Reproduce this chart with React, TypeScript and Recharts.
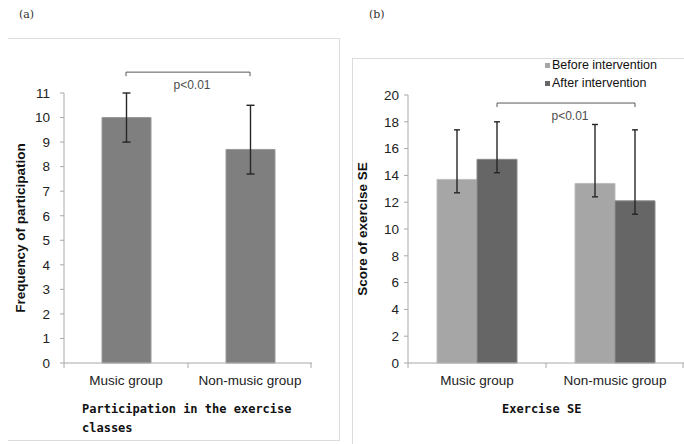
import React from 'react';
import {
  BarChart,
  Bar,
  XAxis,
  YAxis,
  ErrorBar,
  ReferenceLine,
  Legend,
} from 'recharts';

// categories
const groups = ['Music group', 'Non-music group'];

// (a) participation in the exercise classes
const participation = [10, 8.7];
const participationLow = [9, 7.7];
const participationHigh = [11, 10.5];
const ticksA = [0, 1, 2, 3, 4, 5, 6, 7, 8, 9, 10, 11];

// (b) exercise self-efficacy
const seBefore = [13.7, 13.4];
const seBeforeLow = [12.7, 12.4];
const seBeforeHigh = [17.4, 17.8];
const seAfter = [15.2, 12.1];
const seAfterLow = [14.2, 11.1];
const seAfterHigh = [18.0, 17.4];
const ticksB = [0, 2, 4, 6, 8, 10, 12, 14, 16, 18, 20];

// significance brackets (y in data units)
const bracketYA = 11.85;
const bracketYB = 19.4;
const pLabel = 'p<0.01';

const dataA = groups.map((g, i) => ({
  group: g,
  value: participation[i],
  err: [participation[i] - participationLow[i], participationHigh[i] - participation[i]],
}));

const dataB = groups.map((g, i) => ({
  group: g,
  before: seBefore[i],
  after: seAfter[i],
  errBefore: [seBefore[i] - seBeforeLow[i], seBeforeHigh[i] - seBefore[i]],
  errAfter: [seAfter[i] - seAfterLow[i], seAfterHigh[i] - seAfter[i]],
}));

const sans = 'Liberation Sans, Arial, sans-serif';
const axisColor = '#a8a8a8';
const bracketColor = '#595959';
const barSizeA = 49;
const barSizeB = 40;
const titleFont: React.CSSProperties = {
  position: 'absolute',
  fontFamily: '"DejaVu Sans Mono", monospace',
  fontWeight: 'bold',
  fontSize: 12,
  color: '#111',
  whiteSpace: 'nowrap',
  lineHeight: '19px',
};
const tickFont = { fontSize: 13.5, fontFamily: sans, fill: '#222' };

// category label plus Excel-style tick marks at the band edges
function CategoryTick(props: any) {
  const { x, y, payload, index, visibleTicksCount } = props;
  const half = payload?.offset ?? 0;
  const axisY = y - 11;
  const isLast = index === visibleTicksCount - 1;
  return (
    <g>
      {half > 0 && <line x1={x - half} x2={x - half} y1={axisY} y2={axisY + 5} stroke={axisColor} />}
      {half > 0 && isLast && <line x1={x + half - 1} x2={x + half - 1} y1={axisY} y2={axisY + 5} stroke={axisColor} />}
      <text x={x} y={y} dy={11} textAnchor="middle" {...tickFont}>
        {payload.value}
      </text>
    </g>
  );
}

// bracket between two bars; shift moves it onto a bar inside a group
function bracketShape(shift: number) {
  return (p: any) => {
    const { x1, x2, y1 } = p;
    if (x1 == null || y1 == null) return <g />;
    const a = x1 + shift;
    const b = x2 + shift;
    return (
      <g>
        <path d={`M${a},${y1 + 4}V${y1}H${b}V${y1 + 4}`} stroke={bracketColor} fill="none" strokeWidth={1} />
        <text x={(a + b) / 2 + 4} y={y1 + 17} textAnchor="middle" fill="#4d4d4d" fontSize={12} fontFamily={sans}>
          {pLabel}
        </text>
      </g>
    );
  };
}

function LegendB() {
  const items = [
    { label: 'Before intervention', color: '#a6a6a6' },
    { label: 'After intervention', color: '#666666' },
  ];
  return (
    <div style={{ fontFamily: sans, fontSize: 12.5, color: '#111' }}>
      {items.map((it) => (
        <div key={it.label} style={{ display: 'flex', alignItems: 'center', height: 18 }}>
          <span style={{ width: 5, height: 5, background: it.color, marginRight: 2, display: 'inline-block' }} />
          {it.label}
        </div>
      ))}
    </div>
  );
}

export default function App() {
  return (
    <div
      style={{
        position: 'absolute',
        left: 0,
        top: 0,
        width: 684,
        height: 444,
        background: '#fff',
        overflow: 'hidden',
      }}
    >
      <div style={{ position: 'absolute', left: 19, top: 8, fontFamily: 'DejaVu Serif, serif', fontSize: 11, color: '#333' }}>(a)</div>
      <div style={{ position: 'absolute', left: 369, top: 8, fontFamily: 'DejaVu Serif, serif', fontSize: 11, color: '#333' }}>(b)</div>

      {/* panel frames */}
      <div
        style={{
          position: 'absolute',
          left: 8,
          top: 38,
          width: 332,
          height: 403,
          borderTop: '1px solid #dcdcdc',
          borderRight: '1px solid #dcdcdc',
          borderBottom: '1px solid #dcdcdc',
          boxSizing: 'border-box',
        }}
      />
      <div
        style={{
          position: 'absolute',
          left: 352,
          top: 58,
          width: 340,
          height: 400,
          borderTop: '1px solid #dcdcdc',
          borderLeft: '1px solid #dcdcdc',
          boxSizing: 'border-box',
        }}
      />

      {/* (a) */}
      <div style={{ position: 'absolute', left: 0, top: 0 }}>
        <BarChart width={340} height={444} data={dataA} margin={{ top: 93, right: 28, bottom: 51, left: 0 }}>
          <XAxis
            dataKey="group"
            tick={<CategoryTick />}
            tickLine={false}
            tickSize={5}
            tickMargin={6}
            axisLine={{ stroke: axisColor }}
            height={30}
          />
          <YAxis
            domain={[0, 11]}
            ticks={ticksA}
            interval={0}
            tick={tickFont}
            tickSize={4}
            tickMargin={10}
            axisLine={{ stroke: axisColor }}
            tickLine={{ stroke: axisColor }}
            width={64}
            label={{
              value: 'Frequency of participation',
              angle: -90,
              position: 'insideLeft',
              offset: 20,
              style: { textAnchor: 'middle', fontFamily: sans, fontWeight: 'bold', fontSize: 13.5, fill: '#111' },
            }}
          />
          <Bar dataKey="value" fill="#7f7f7f" stroke="#999" strokeWidth={1} barSize={barSizeA} isAnimationActive={false}>
            <ErrorBar dataKey="err" width={4} stroke="#262626" strokeWidth={1.4} direction="y" />
          </Bar>
          <ReferenceLine
            segment={[
              { x: groups[0], y: bracketYA },
              { x: groups[1], y: bracketYA },
            ]}
            ifOverflow="visible"
            shape={bracketShape(0)}
          />
        </BarChart>
      </div>
      <div style={{ ...titleFont, left: 82, top: 400 }}>
        Participation in the exercise
        <br />
        classes
      </div>

      {/* (b) */}
      <div style={{ position: 'absolute', left: 340, top: 0 }}>
        <BarChart
          width={344}
          height={444}
          data={dataB}
          margin={{ top: 95, right: 0, bottom: 51, left: 0 }}
          barGap={0}
        >
          <XAxis
            dataKey="group"
            tick={<CategoryTick />}
            tickLine={false}
            tickSize={5}
            tickMargin={6}
            axisLine={{ stroke: axisColor }}
            height={30}
          />
          <YAxis
            domain={[0, 20]}
            ticks={ticksB}
            interval={0}
            tick={tickFont}
            tickSize={4}
            tickMargin={5}
            axisLine={{ stroke: axisColor }}
            tickLine={{ stroke: axisColor }}
            width={68}
            label={{
              value: 'Score of exercise SE',
              angle: -90,
              position: 'insideLeft',
              offset: 22,
              style: { textAnchor: 'middle', fontFamily: sans, fontWeight: 'bold', fontSize: 13.5, fill: '#111' },
            }}
          />
          <Legend
            layout="vertical"
            align="center"
            verticalAlign="middle"
            wrapperStyle={{ left: 205, top: 56, width: 'auto' }}
            content={() => <LegendB />}
          />
          <Bar dataKey="before" name="Before intervention" fill="#a6a6a6" stroke="#bdbdbd" barSize={barSizeB} isAnimationActive={false}>
            <ErrorBar dataKey="errBefore" width={3} stroke="#262626" strokeWidth={1.4} direction="y" />
          </Bar>
          <Bar dataKey="after" name="After intervention" fill="#666666" stroke="#8a8a8a" barSize={barSizeB} isAnimationActive={false}>
            <ErrorBar dataKey="errAfter" width={3} stroke="#262626" strokeWidth={1.4} direction="y" />
          </Bar>
          <ReferenceLine
            segment={[
              { x: groups[0], y: bracketYB },
              { x: groups[1], y: bracketYB },
            ]}
            ifOverflow="visible"
            shape={bracketShape(barSizeB / 2)}
          />
        </BarChart>
      </div>
      <div style={{ ...titleFont, left: 502, top: 400 }}>Exercise SE</div>
    </div>
  );
}
